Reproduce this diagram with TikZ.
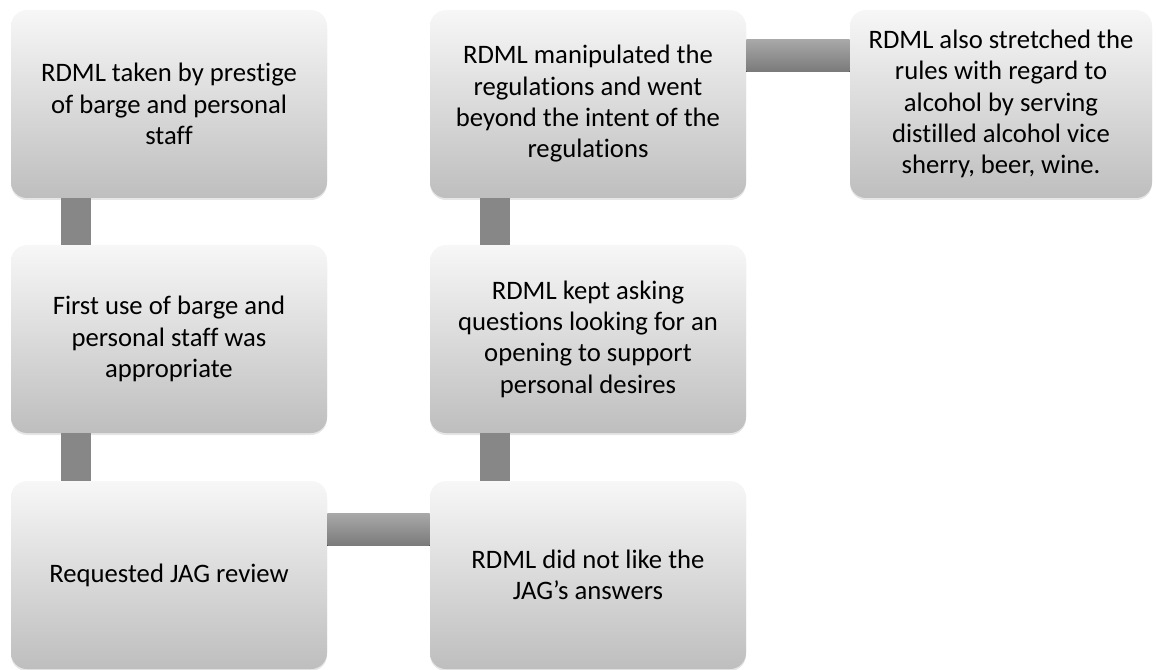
\documentclass[tikz,border=0pt]{standalone}
\usepackage{fontspec}
\setmainfont[Ligatures=NoCommon]{Carlito}
\usetikzlibrary{shadows}
\definecolor{boxtop}{HTML}{F7F7F7}
\definecolor{boxbot}{HTML}{BEBEBE}
\definecolor{bartop}{HTML}{A8A8A8}
\definecolor{barbot}{HTML}{7A7A7A}
\definecolor{barfill}{HTML}{878787}

\begin{document}
\begin{tikzpicture}[x=0.75pt,y=-0.75pt,
  stepbox/.style={rounded corners=12pt, top color=boxtop, bottom color=boxbot,
    minimum width=237pt, minimum height=141pt, inner sep=0pt, align=center,
    font=\fontsize{20}{23.5}\selectfont,
    drop shadow={opacity=0.2, shadow xshift=0pt, shadow yshift=-1.5pt}},
  vbar/.style={fill=barfill},
  hbar/.style={top color=bartop, bottom color=barbot}]
\useasboundingbox (0,0) rectangle (1156,670);
% left column
\node [stepbox] (prestige) at (169,104) {RDML taken by prestige\\of barge and personal\\staff};
\node [stepbox] (firstuse) at (169,339) {First use of barge and\\personal staff was\\appropriate};
\node [stepbox] (jag) at (169,575) {Requested JAG review};
% middle column
\node [stepbox] (manip) at (588,104) {RDML manipulated the\\regulations and went\\beyond the intent of the\\regulations};
\node [stepbox] (asking) at (588,339) {RDML kept asking\\questions looking for an\\opening to support\\personal desires};
\node [stepbox] (answers) at (588,575) {RDML did not like the\\JAG’s answers};
% right column
\node [stepbox, minimum width=226.5pt] (alcohol) at (1001,104) {RDML also stretched the\\rules with regard to\\alcohol by serving\\distilled alcohol vice\\sherry, beer, wine.};
% bars
\fill [vbar] ([xshift=37.5pt]prestige.south west) rectangle ([xshift=60pt]firstuse.north west);
\fill [vbar] ([xshift=37.5pt]firstuse.south west) rectangle ([xshift=60pt]jag.north west);
\fill [hbar] ([yshift=-24.75pt]jag.north east) rectangle ([yshift=-48.75pt]answers.north west);
\fill [vbar] ([xshift=37.5pt]asking.south west) rectangle ([xshift=60pt]answers.north west);
\fill [vbar] ([xshift=37.5pt]manip.south west) rectangle ([xshift=60pt]asking.north west);
\fill [hbar] ([yshift=-22.5pt]manip.north east) rectangle ([yshift=-46.5pt]alcohol.north west);
\end{tikzpicture}
\end{document}
